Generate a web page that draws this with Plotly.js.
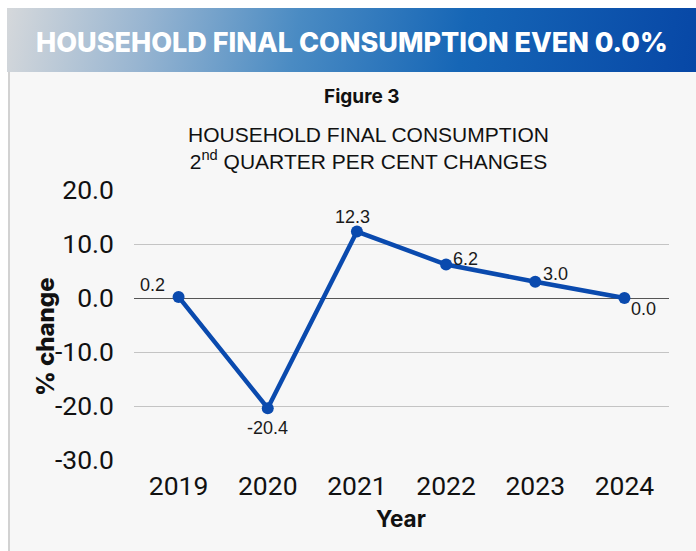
<!DOCTYPE html>
<html>
<head>
<meta charset="utf-8">
<script src="https://cdn.plot.ly/plotly-3.0.1.min.js"></script>
<style>
  body { margin: 0; background: #ffffff; }
  #wrap { position: relative; width: 696px; height: 551px; overflow: hidden; }
  #banner {
    position: absolute; left: 7px; top: 8px; width: 689px; height: 64px;
    background: linear-gradient(100deg, #d5d8db 0%, #98b5d1 20%, #4a8bc3 42%, #1666b6 66%, #0747a6 100%);
  }
  #panel {
    position: absolute; left: 8px; top: 72px; width: 688px; height: 479px;
    background: #f7f7f7; border-left: 2px solid #d2d2d2;
  }
  #chart { position: absolute; left: 0; top: 0; width: 696px; height: 551px; }
</style>
</head>
<body>
<div id="wrap">
  <div id="banner"></div>
  <div id="panel"></div>
  <div id="chart"></div>
</div>
<script>
const years = ["2019", "2020", "2021", "2022", "2023", "2024"];
const change = [0.2, -20.4, 12.3, 6.2, 3.0, 0.0];
const yTicks = [-30, -20, -10, 0, 10, 20];
// label offsets from each point, in pixels
const labelDx = [-26, 0, -4, 19, 20, 19];
const labelDy = [12, -20, 15, 6, 8, -11];

const W = 696, H = 551;
const L = 134, R = 27, T = 190, B = 91;

// pixel -> paper coords
function px(x) { return (x - L) / (W - L - R); }
function py(y) { return (H - B - y) / (H - T - B); }

const trace = {
  x: years,
  y: change,
  mode: "lines+markers",
  line: {color: "#0a4aae", width: 4.5},
  marker: {color: "#0a4aae", size: 12},
  cliponaxis: false,
  hoverinfo: "x+y"
};

// category axis: annotation x is the category index
const valueLabels = years.map((yr, i) => ({
  x: i, y: change[i], xref: "x", yref: "y",
  text: change[i].toFixed(1), showarrow: false,
  xanchor: "center", yanchor: "middle",
  xshift: labelDx[i], yshift: labelDy[i],
  font: {family: "Liberation Sans, Arial, sans-serif", size: 18, color: "#1a1a1a"}
}));

const layout = {
  width: W, height: H,
  margin: {l: L, r: R, t: T, b: B},
  paper_bgcolor: "rgba(0,0,0,0)",
  plot_bgcolor: "rgba(0,0,0,0)",
  showlegend: false,
  font: {family: "Roboto, Liberation Sans, sans-serif", color: "#111"},
  xaxis: {
    type: "category",
    range: [-0.5, 5.5],
    showgrid: false,
    zeroline: false,
    showline: false,
    ticks: "",
    tickfont: {family: "Roboto, sans-serif", size: 26.5, color: "#111"},
    ticklabelstandoff: 7
  },
  yaxis: {
    range: [-30, 20],
    tickvals: yTicks,
    ticktext: yTicks.map(v => v.toFixed(1)),
    showgrid: true,
    gridcolor: "#c4c4c4",
    gridwidth: 1,
    zeroline: true,
    zerolinecolor: "#555",
    zerolinewidth: 1,
    showline: false,
    ticks: "",
    ticklabelstandoff: 19,
    tickfont: {family: "Roboto, sans-serif", size: 26.5, color: "#111"}
  },
  annotations: valueLabels.concat([
    {text: "HOUSEHOLD FINAL CONSUMPTION EVEN 0.0%", x: px(352), y: py(42),
     xref: "paper", yref: "paper", showarrow: false, xanchor: "center", yanchor: "middle",
     font: {family: "Inter, Open Sans, sans-serif", size: 27, weight: 800, color: "#ffffff"}},
    {text: "Figure 3", x: px(362), y: py(96),
     xref: "paper", yref: "paper", showarrow: false, xanchor: "center", yanchor: "middle",
     font: {family: "Inter, Open Sans, sans-serif", size: 19, weight: 700, color: "#111"}},
    {text: "HOUSEHOLD FINAL CONSUMPTION<br>2<sup>nd</sup> QUARTER PER CENT CHANGES", x: px(368), y: py(148),
     xref: "paper", yref: "paper", showarrow: false, xanchor: "center", yanchor: "middle",
     font: {family: "Liberation Sans, Arial, sans-serif", size: 21, color: "#111"}},
    {text: "% change", x: px(45), y: py(337), textangle: -90,
     xref: "paper", yref: "paper", showarrow: false, xanchor: "center", yanchor: "middle",
     font: {family: "Inter, Open Sans, sans-serif", size: 24, weight: 800, color: "#111"}},
    {text: "Year", x: px(401), y: py(518),
     xref: "paper", yref: "paper", showarrow: false, xanchor: "center", yanchor: "middle",
     font: {family: "Inter, Open Sans, sans-serif", size: 22.5, weight: 700, color: "#111"}}
  ])
};

Plotly.newPlot("chart", [trace], layout, {displayModeBar: false, staticPlot: true});
</script>
</body>
</html>
